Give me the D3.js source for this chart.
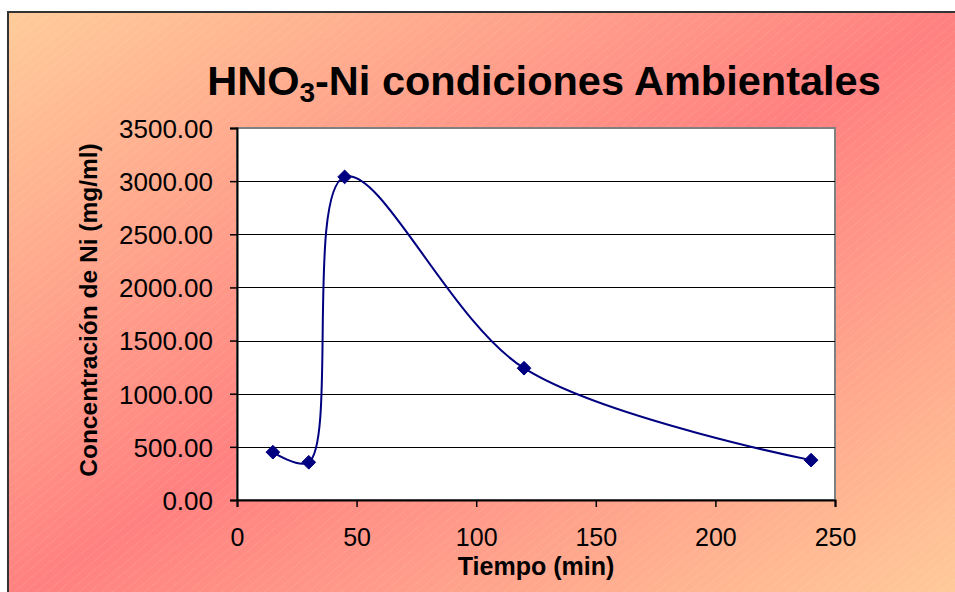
<!DOCTYPE html>
<html>
<head>
<meta charset="utf-8">
<script src="https://cdn.jsdelivr.net/npm/d3@7"></script>
<style>
  html, body { margin: 0; padding: 0; background: #fff; }
  svg { display: block; }
  text { font-family: Arial, "Liberation Sans", sans-serif; fill: #000; }
</style>
</head>
<body>
<svg id="chart" width="955" height="592"></svg>
<script>
// Nickel concentration in HNO3 over time
const tiempo = [15, 30, 45, 120, 240];
const concentracion = [450, 355, 3040, 1240, 375];
const xTicks = [0, 50, 100, 150, 200, 250];
const yTicks = [0, 500, 1000, 1500, 2000, 2500, 3000, 3500];

const W = 955, H = 592;
const plot = { left: 237, right: 835, top: 128, bottom: 500 };

const svg = d3.select("#chart");
const defs = svg.append("defs");

// Diagonal two-tone background fill with fine hatching
const grad = defs.append("linearGradient")
  .attr("id", "bg").attr("x1", 0).attr("y1", 0).attr("x2", 1).attr("y2", 1);
grad.append("stop").attr("offset", 0).attr("stop-color", "#ffcc99");
grad.append("stop").attr("offset", 0.5).attr("stop-color", "#ff8080");
grad.append("stop").attr("offset", 1).attr("stop-color", "#ffcc99");

const hatch = defs.append("pattern")
  .attr("id", "hatch").attr("patternUnits", "userSpaceOnUse")
  .attr("width", 7).attr("height", 7)
  .attr("patternTransform", "rotate(-40)");
hatch.append("line").attr("x1", 0).attr("y1", 0).attr("x2", 7).attr("y2", 0)
  .attr("stroke", "#fff").attr("stroke-width", 1).attr("stroke-opacity", 0.22)
  .attr("stroke-dasharray", "2,1");

svg.append("rect").attr("x", 8).attr("y", 12).attr("width", W).attr("height", H)
  .attr("fill", "url(#bg)");
svg.append("rect").attr("x", 8).attr("y", 12).attr("width", W).attr("height", H)
  .attr("fill", "url(#hatch)");
svg.append("path")
  .attr("d", `M8,${H} V12 H${W}`)
  .attr("fill", "none").attr("stroke", "#333").attr("stroke-width", 2);

// Title with subscript 3
const title = svg.append("text")
  .attr("x", 544).attr("y", 95)
  .attr("text-anchor", "middle")
  .style("font-size", "41.5px").style("font-weight", "bold");
title.append("tspan").text("HNO");
title.append("tspan").text("3").style("font-size", "28px").attr("dy", 7);
title.append("tspan").text("-Ni condiciones Ambientales").attr("dy", -7);

// Scales
const x = d3.scaleLinear().domain([0, 250]).range([plot.left, plot.right]);
const y = d3.scaleLinear().domain([0, 3500]).range([plot.bottom, plot.top]);

// Plot area
svg.append("rect")
  .attr("x", plot.left).attr("y", plot.top)
  .attr("width", plot.right - plot.left).attr("height", plot.bottom - plot.top)
  .attr("fill", "#fff").attr("stroke", "#808080").attr("stroke-width", 2);

// Horizontal gridlines
svg.append("g").selectAll("line")
  .data(yTicks.filter(d => d > 0 && d < 3500))
  .join("line")
  .attr("x1", plot.left).attr("x2", plot.right)
  .attr("y1", d => Math.round(y(d)) + 0.5).attr("y2", d => Math.round(y(d)) + 0.5)
  .attr("stroke", "#000").attr("stroke-width", 1);

// Axes
const yAxis = svg.append("g")
  .attr("transform", `translate(${plot.left},0)`)
  .call(d3.axisLeft(y).tickValues(yTicks).tickFormat(d3.format(".2f")).tickSize(7).tickPadding(17));
const xAxis = svg.append("g")
  .attr("transform", `translate(0,${plot.bottom})`)
  .call(d3.axisBottom(x).tickValues(xTicks).tickFormat(d3.format("d")).tickSize(7).tickPadding(21));

[yAxis, xAxis].forEach(g => {
  g.select(".domain").attr("stroke", "#000").attr("stroke-width", 2);
  g.selectAll(".tick line").attr("stroke", "#000").attr("stroke-width", 1.5);
  g.selectAll(".tick text")
    .style("font-family", "Arial, 'Liberation Sans', sans-serif")
    .attr("fill", "#000");
});
xAxis.selectAll(".tick text").style("font-size", "25px");
yAxis.selectAll(".tick text").style("font-size", "26px").attr("dy", "0.36em");

// Axis titles
svg.append("text")
  .attr("transform", `translate(97,${(plot.top + plot.bottom) / 2 - 4}) rotate(-90)`)
  .attr("text-anchor", "middle")
  .style("font-size", "24.5px").style("font-weight", "bold")
  .text("Concentración de Ni (mg/ml)");
svg.append("text")
  .attr("x", 536).attr("y", 575)
  .attr("text-anchor", "middle")
  .style("font-size", "25px").style("font-weight", "bold")
  .text("Tiempo (min)");

// Smoothed series line
const pts = tiempo.map((t, i) => [t, concentracion[i]]);
const line = d3.line()
  .x(d => x(d[0])).y(d => y(d[1]))
  .curve(d3.curveCatmullRom.alpha(0.5));
svg.append("path")
  .datum(pts)
  .attr("d", line)
  .attr("fill", "none").attr("stroke", "#000080").attr("stroke-width", 2);

// Diamond markers
svg.append("g").selectAll("path")
  .data(pts)
  .join("path")
  .attr("transform", d => `translate(${x(d[0])},${y(d[1])})`)
  .attr("d", d3.symbol(d3.symbolDiamond2, 120)())
  .attr("fill", "#000080").attr("stroke", "#000080").attr("stroke-width", 1);
</script>
</body>
</html>
